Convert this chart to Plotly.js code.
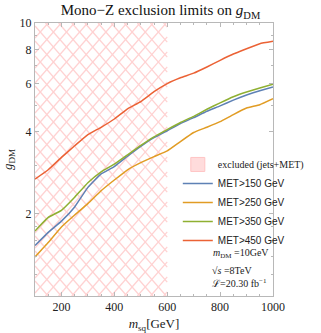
<!DOCTYPE html>
<html>
<head>
<meta charset="utf-8">
<script src="https://cdn.plot.ly/plotly-3.0.1.min.js"></script>
<style>
  body { margin: 0; background: #fff; }
  #chart { width: 321px; height: 333px; }
</style>
</head>
<body>
<div id="chart"></div>
<script>
// m_sq grid (GeV)
var msq = [100, 150, 200, 250, 300, 350, 400, 450, 500, 550, 600, 650, 700, 750, 800, 850, 900, 950, 1000];

// g_DM limits
var met150 = [1.53, 1.71, 1.88, 2.12, 2.50, 2.80, 2.98, 3.25, 3.53, 3.80, 4.03, 4.28, 4.50, 4.75, 4.97, 5.22, 5.45, 5.65, 5.83];
var met250 = [1.39, 1.57, 1.79, 1.98, 2.18, 2.43, 2.66, 2.90, 3.08, 3.24, 3.40, 3.68, 3.97, 4.15, 4.35, 4.62, 4.88, 5.02, 5.28];
var met350 = [1.73, 1.94, 2.06, 2.30, 2.60, 2.85, 3.04, 3.29, 3.56, 3.83, 4.07, 4.32, 4.55, 4.83, 5.10, 5.37, 5.59, 5.78, 5.97];
var met450 = [2.68, 2.90, 3.22, 3.55, 3.90, 4.15, 4.45, 4.85, 5.15, 5.60, 6.00, 6.30, 6.55, 6.90, 7.30, 7.70, 8.05, 8.40, 8.57];

// excluded region (jets+MET): m_sq from/to, g_DM from/to
var exclX = [100, 600];
var exclY = [1, 10];

var serif = "Liberation Serif, DejaVu Serif, serif";

// cross-hatch for the excluded region, drawn as +-45 degree lines
// (plot area is 272 px for 900 GeV and 273 px per decade)
function hatch(step) {
    var kx = 272 / 900, ky = 273;
    var U = (exclX[1] - exclX[0]) * kx;
    var V = (Math.log10(exclY[1]) - Math.log10(exclY[0])) * ky;
    var hx = [], hy = [];
    function add(u, v) {
        hx.push(exclX[0] + u / kx);
        hy.push(Math.pow(10, Math.log10(exclY[0]) + v / ky));
    }
    for (var c = -V; c <= U; c += step) {
        var u0 = Math.max(0, c), u1 = Math.min(U, V + c);
        if (u1 <= u0) continue;
        add(u0, u0 - c); add(u1, u1 - c); hx.push(null); hy.push(null);
    }
    for (var c = 0; c <= U + V; c += step) {
        var u0 = Math.max(0, c - V), u1 = Math.min(U, c);
        if (u1 <= u0) continue;
        add(u0, c - u0); add(u1, c - u1); hx.push(null); hy.push(null);
    }
    return {x: hx, y: hy};
}
var h = hatch(15);

var hatchTrace = {
    x: h.x, y: h.y, type: "scatter", mode: "lines",
    line: {color: "#ffd2d2", width: 1.3},
    connectgaps: false, showlegend: false, hoverinfo: "skip"
};

// legend swatch for the excluded region
var exclLegend = {
    x: [null], y: [null], type: "scatter", mode: "markers",
    marker: {symbol: "square", size: 14, color: "#ffdcdc", line: {color: "#ffc4c4", width: 1}},
    name: '<span style="font-family:' + serif + '">excluded (jets+MET)</span>',
    hoverinfo: "skip"
};

function line(y, name, color) {
    return {x: msq, y: y, type: "scatter", mode: "lines", name: name,
            line: {color: color, width: 1.5, shape: "spline", smoothing: 0.3}};
}

var data = [
    hatchTrace,
    exclLegend,
    line(met150, "MET>150 GeV", "#5e81b5"),
    line(met250, "MET>250 GeV", "#e19c24"),
    line(met350, "MET>350 GeV", "#8fb032"),
    line(met450, "MET>450 GeV", "#eb6235")
];

var axisCommon = {
    showgrid: false, zeroline: false,
    showline: true, linecolor: "#b8b8b8", linewidth: 1, mirror: "ticks",
    ticks: "inside", ticklen: 4, tickcolor: "#b8b8b8",
    tickfont: {family: serif, size: 12, color: "#222"}
};

var layout = {
    width: 321, height: 333,
    margin: {l: 35, r: 14, t: 23, b: 37},
    paper_bgcolor: "#fff", plot_bgcolor: "#fff",
    title: {text: "Mono\u2212Z exclusion limits on <i>g</i><sub>DM</sub>",
            font: {family: serif, size: 15, color: "#111"}, x: 0.5, y: 0.985, yanchor: "top"},
    xaxis: Object.assign({}, axisCommon, {
        range: [100, 1000],
        tickvals: [200, 400, 600, 800, 1000],
        minor: {ticks: "inside", ticklen: 2, tickcolor: "#b8b8b8", dtick: 50},
        title: {text: "<i>m</i><sub>sq</sub>[GeV]", font: {family: serif, size: 13, color: "#222"}, standoff: 6}
    }),
    yaxis: Object.assign({}, axisCommon, {
        type: "log", range: [0, 1],
        tickvals: [2, 4, 6, 8, 10],
        ticktext: ["2", "4", "6", "8", "10"],
        minor: {ticks: "inside", ticklen: 2, tickcolor: "#b8b8b8",
                tickvals: [1.2, 1.4, 1.6, 1.8, 3, 5, 7, 9]},
        title: {text: "<i>g</i><sub>DM</sub>", font: {family: serif, size: 13, color: "#222"}, standoff: 4}
    }),
    showlegend: true,
    legend: {x: 0.6, y: 0.535, xanchor: "left", yanchor: "top",
             bgcolor: "rgba(255,255,255,0)", font: {family: "Liberation Sans, Arial, sans-serif", size: 10, color: "#222"},
             tracegroupgap: 0, itemwidth: 30},
    annotations: [
        {xref: "paper", yref: "paper", x: 0.74, y: 0.155, xanchor: "left", yanchor: "middle", showarrow: false,
         text: "<i>m</i><sub>DM</sub> =10GeV", font: {family: serif, size: 10, color: "#222"}},
        {xref: "paper", yref: "paper", x: 0.735, y: 0.095, xanchor: "left", yanchor: "middle", showarrow: false,
         text: "\u221A<i>s</i> =8TeV", font: {family: serif, size: 10, color: "#222"}},
        {xref: "paper", yref: "paper", x: 0.735, y: 0.048, xanchor: "left", yanchor: "middle", showarrow: false,
         text: "\u2112=20.30 fb<sup>\u22121</sup>", font: {family: serif, size: 10, color: "#222"}}
    ]
};

Plotly.newPlot("chart", data, layout, {displayModeBar: false, staticPlot: true});
</script>
</body>
</html>
